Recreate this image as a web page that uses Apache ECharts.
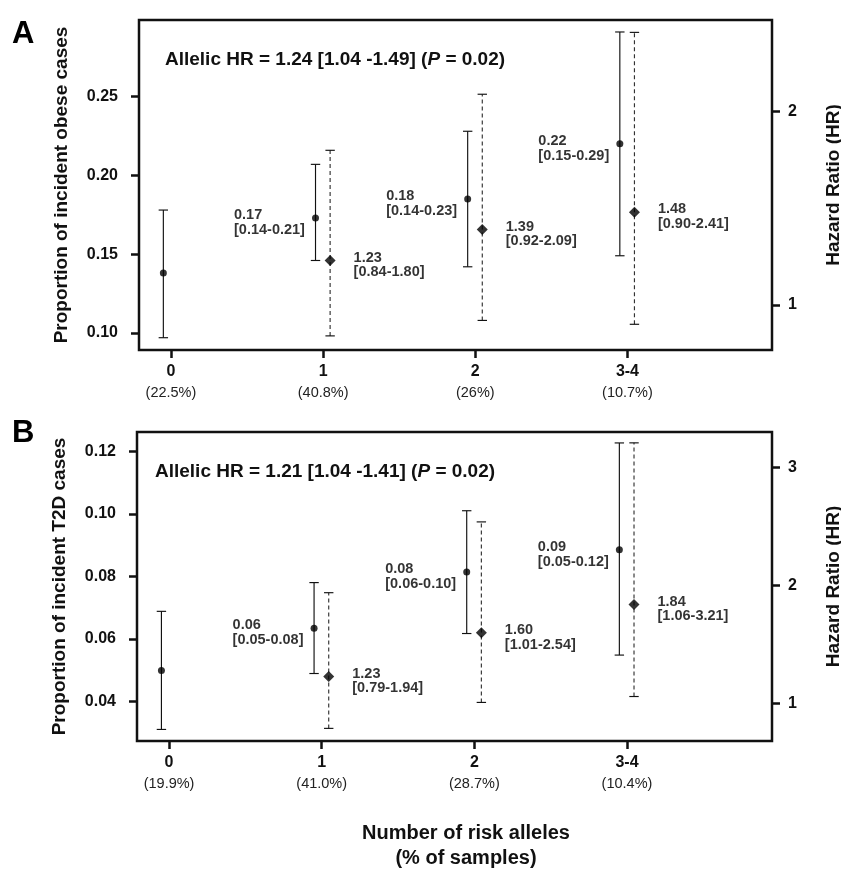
<!DOCTYPE html>
<html>
<head>
<meta charset="utf-8">
<script src="https://cdn.jsdelivr.net/npm/echarts@6/dist/echarts.min.js"></script>
<style>
html,body{margin:0;padding:0;background:#fff;}
#chart{width:841px;height:870px;}
</style>
</head>
<body>
<div id="chart"></div>
<script>
// ---- data ----
const categories = ['0', '1', '2', '3-4'];
const samplePctA = ['(22.5%)', '(40.8%)', '(26%)', '(10.7%)'];
const samplePctB = ['(19.9%)', '(41.0%)', '(28.7%)', '(10.4%)'];

// Panel A: obesity
const propA     = [0.138, 0.173, 0.185, 0.220];
const propLowA  = [0.097, 0.146, 0.142, 0.149];
const propHighA = [0.178, 0.207, 0.228, 0.291];
const propLabelA = ['', '0.17\n[0.14-0.21]', '0.18\n[0.14-0.23]', '0.22\n[0.15-0.29]'];
const hrA     = [null, 1.23, 1.39, 1.48];
const hrLowA  = [null, 0.84, 0.92, 0.90];
const hrHighA = [null, 1.80, 2.09, 2.41];
const hrLabelA = ['', '1.23\n[0.84-1.80]', '1.39\n[0.92-2.09]', '1.48\n[0.90-2.41]'];
const titleA = ['Allelic HR = 1.24 [1.04 -1.49] (', 'P', ' = 0.02)'];
const yTicksA = [0.10, 0.15, 0.20, 0.25];
const hrTicksA = [1, 2];

// Panel B: T2D
const propB     = [0.0499, 0.0634, 0.0814, 0.0885];
const propLowB  = [0.0310, 0.0489, 0.0617, 0.0548];
const propHighB = [0.0688, 0.0780, 0.1010, 0.1227];
const propLabelB = ['', '0.06\n[0.05-0.08]', '0.08\n[0.06-0.10]', '0.09\n[0.05-0.12]'];
const hrB     = [null, 1.23, 1.60, 1.84];
const hrLowB  = [null, 0.79, 1.01, 1.06];
const hrHighB = [null, 1.94, 2.54, 3.21];
const hrLabelB = ['', '1.23\n[0.79-1.94]', '1.60\n[1.01-2.54]', '1.84\n[1.06-3.21]'];
const titleB = ['Allelic HR = 1.21 [1.04 -1.41] (', 'P', ' = 0.02)'];
const yTicksB = [0.04, 0.06, 0.08, 0.10, 0.12];
const hrTicksB = [1, 2, 3];

// ---- styling / layout ----
const FONT = 'Liberation Sans, Arial, Helvetica, sans-serif';
const INK = '#111';
const PROP_OFF = -0.05, HR_OFF = 0.046;
const catIdx = categories.map((c, i) => i);

function errRender(dashed) {
  return function (params, api) {
    const x = api.value(0);
    const lo = api.coord([x, api.value(1)]);
    const hi = api.coord([x, api.value(2)]);
    const w = 4.7;
    const base = { stroke: '#111', lineWidth: 1.15, fill: null };
    const main = Object.assign({}, base, dashed ? { lineDash: [4, 3], stroke: '#333' } : {});
    return {
      type: 'group',
      children: [
        { type: 'line', shape: { x1: lo[0], y1: lo[1], x2: hi[0], y2: hi[1] }, style: main },
        { type: 'line', shape: { x1: lo[0] - w, y1: lo[1], x2: lo[0] + w, y2: lo[1] }, style: base },
        { type: 'line', shape: { x1: hi[0] - w, y1: hi[1], x2: hi[0] + w, y2: hi[1] }, style: base }
      ]
    };
  };
}

function richLabel(txt) {
  if (!txt) return '';
  return txt.split('\n').map(l => '{t|' + l + '}').join('\n');
}

function panelSeries(xi, yl, yr, prop, lo, hi, pLab, hr, hlo, hhi, hLab) {
  const propErr = catIdx.map(i => [i + PROP_OFF, lo[i], hi[i]]);
  const propPts = catIdx.map(i => ({ value: [i + PROP_OFF, prop[i]], lab: pLab[i] }));
  const hrIdx = catIdx.filter(i => hr[i] != null);
  const hrErr = hrIdx.map(i => [i + HR_OFF, hlo[i], hhi[i]]);
  const hrPts = hrIdx.map(i => ({ value: [i + HR_OFF, hr[i]], lab: hLab[i] }));
  const labStyle = {
    show: true, color: '#000', fontFamily: FONT, fontWeight: 'bold', fontSize: 14.5,
    lineHeight: 14.5, offset: [0, 4.5], textBorderWidth: 0
  };
  return [
    { type: 'custom', xAxisIndex: xi, yAxisIndex: yl, renderItem: errRender(false), data: propErr, z: 2, silent: true },
    { type: 'custom', xAxisIndex: xi, yAxisIndex: yr, renderItem: errRender(true), data: hrErr, z: 2, silent: true },
    {
      type: 'scatter', xAxisIndex: xi, yAxisIndex: yl, data: propPts, symbol: 'circle', symbolSize: 7,
      itemStyle: { color: '#000' }, z: 3,
      label: Object.assign({}, labStyle, {
        position: 'left', distance: 7,
        formatter: p => richLabel(p.data.lab),
        rich: { t: { width: 71, align: 'left', fontFamily: FONT, fontWeight: 'bold', fontSize: 14.5, lineHeight: 14.5, color: '#000' } }
      })
    },
    {
      type: 'scatter', xAxisIndex: xi, yAxisIndex: yr, data: hrPts, symbol: 'diamond', symbolSize: 11,
      itemStyle: { color: '#000' }, z: 3,
      label: Object.assign({}, labStyle, {
        position: 'right', distance: 18,
        formatter: p => p.data.lab
      })
    }
  ];
}

function xAxisCfg(gi, pct) {
  return {
    type: 'value', gridIndex: gi, min: -0.21, max: 3.95,
    axisLine: { show: false, onZero: false }, splitLine: { show: false },
    axisTick: { show: true, length: 8, lineStyle: { color: INK, width: 2.5 }, customValues: catIdx },
    axisLabel: {
      margin: 11, customValues: catIdx,
      formatter: v => { const i = Math.round(v); return '{b|' + categories[i] + '}\n{p|' + pct[i] + '}'; },
      rich: {
        b: { fontFamily: FONT, fontWeight: 'bold', fontSize: 16, lineHeight: 21, color: INK },
        p: { fontFamily: FONT, fontSize: 14.5, lineHeight: 21, color: '#222' }
      }
    }
  };
}

function yAxisCfg(gi, min, max, ticks, pos, name, gap, fmt, margin) {
  return {
    type: 'value', gridIndex: gi, position: pos, min: min, max: max,
    axisLine: { show: false, onZero: false }, splitLine: { show: false },
    axisTick: { show: true, length: 8, lineStyle: { color: INK, width: 2.5 }, customValues: ticks },
    axisLabel: {
      margin: margin, customValues: ticks, formatter: fmt,
      fontFamily: FONT, fontWeight: 'bold', fontSize: 16, color: INK
    },
    name: name, nameLocation: 'middle', nameGap: gap, nameRotate: 90,
    nameTextStyle: { fontFamily: FONT, fontWeight: 'bold', fontSize: 19, color: INK }
  };
}

const f2 = v => v.toFixed(2);
const f0 = v => String(Math.round(v));

const titleRich = {
  a: { fontFamily: FONT, fontWeight: 'bold', fontSize: 19, fill: INK },
  i: { fontFamily: FONT, fontWeight: 'bold', fontStyle: 'italic', fontSize: 19, fill: INK }
};
function titleText(t) { return '{a|' + t[0] + '}{i|' + t[1] + '}{a|' + t[2] + '}'; }

const option = {
  backgroundColor: '#fff',
  animation: false,
  grid: [
    { left: 139, top: 20, right: 69, height: 330, show: true, borderColor: INK, borderWidth: 2.5,
      containLabel: false, outerBoundsMode: 'none' },
    { left: 137, top: 432, right: 69, height: 309, show: true, borderColor: INK, borderWidth: 2.5,
      containLabel: false, outerBoundsMode: 'none' }
  ],
  xAxis: [xAxisCfg(0, samplePctA), xAxisCfg(1, samplePctB)],
  yAxis: [
    yAxisCfg(0, 0.0892, 0.2986, yTicksA, 'left', 'Proportion of incident obese cases', 68, f2, 21),
    yAxisCfg(0, 0.767, 2.474, hrTicksA, 'right', 'Hazard Ratio (HR)', 52, f0, 16),
    yAxisCfg(1, 0.0273, 0.1262, yTicksB, 'left', 'Proportion of incident T2D cases', 68, f2, 21),
    yAxisCfg(1, 0.683, 3.302, hrTicksB, 'right', 'Hazard Ratio (HR)', 52, f0, 16)
  ],
  series: [].concat(
    panelSeries(0, 0, 1, propA, propLowA, propHighA, propLabelA, hrA, hrLowA, hrHighA, hrLabelA),
    panelSeries(1, 2, 3, propB, propLowB, propHighB, propLabelB, hrB, hrLowB, hrHighB, hrLabelB)
  ),
  graphic: [
    { type: 'text', left: 12, top: 19, style: { text: 'A', fontFamily: FONT, fontWeight: 'bold', fontSize: 31, fill: '#000' } },
    { type: 'text', left: 12, top: 418, style: { text: 'B', fontFamily: FONT, fontWeight: 'bold', fontSize: 31, fill: '#000' } },
    { type: 'text', x: 165, y: 60, style: { text: titleText(titleA), rich: titleRich, verticalAlign: 'middle', align: 'left' } },
    { type: 'text', x: 155, y: 472, style: { text: titleText(titleB), rich: titleRich, verticalAlign: 'middle', align: 'left' } },
    { type: 'text', x: 466, y: 821, style: {
        text: 'Number of risk alleles\n(% of samples)', fontFamily: FONT, fontWeight: 'bold', fontSize: 20,
        lineHeight: 25, fill: INK, align: 'center', verticalAlign: 'top' } }
  ]
};

const chart = echarts.init(document.getElementById('chart'), null, { renderer: 'canvas' });
chart.setOption(option);
</script>
</body>
</html>
